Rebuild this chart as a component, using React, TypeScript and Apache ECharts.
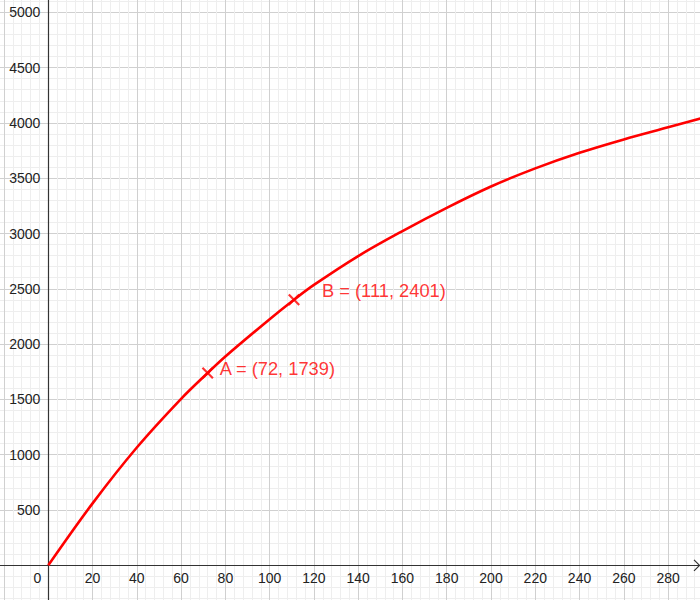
import React, { useEffect, useRef } from "react";
import * as echarts from "echarts";

// Curve readings (x, y)
const curveX = [0, 20, 40, 60, 72, 80, 100, 111, 120, 140, 160, 180, 200, 220, 240, 260, 280, 295];
const curveY = [0, 560, 1065, 1505, 1739, 1888, 2225, 2401, 2535, 2796, 3022, 3232, 3425, 3589, 3730, 3851, 3960, 4042];

// Labelled points
const pointNames = ["A", "B"];
const pointX = [72, 111];
const pointY = [1739, 2401];

// Axis settings
const xMin = -40;
const xMax = 300;
const xStep = 20;
const yMin = -500;
const yMax = 5500;
const yStep = 500;

const FONT = "'Liberation Sans', Arial, sans-serif";
const RED = "#ff0000";

// label offsets (style, not data)
const labelOffsets = [
  [0, -4],
  [16, -9],
];

const CROSS =
  "path://M0,1.3L1.3,0L5,3.7L8.7,0L10,1.3L6.3,5L10,8.7L8.7,10L5,6.3L1.3,10L0,8.7L3.7,5Z";

export default function App() {
  const ref = useRef<HTMLDivElement>(null);
  useEffect(() => {
    if (!ref.current) return;
    const chart = echarts.init(ref.current, null, { renderer: "svg" });

    // pixel layout of the plotting plane
    const x0 = 48.3;
    const sx = 2.2135; // px per x unit
    const y0 = 565.3;
    const sy = 55.3 / 500; // px per y unit
    const gridLeft = x0 + xMin * sx;
    const gridRightPx = x0 + xMax * sx;
    const gridTop = y0 - yMax * sy;
    const gridBottomPx = y0 - yMin * sy;

    const option: any = {
      animation: false,
      backgroundColor: "#ffffff",
      grid: {
        left: gridLeft,
        right: 700 - gridRightPx,
        top: gridTop,
        bottom: 600 - gridBottomPx,
        containLabel: false,
        outerBoundsMode: "none",
      },
      xAxis: {
        type: "value",
        position: "bottom",
        offset: -(gridBottomPx - y0),
        min: xMin,
        max: xMax,
        interval: xStep,
        axisLine: { show: true, onZero: false, lineStyle: { color: "#333333", width: 1.2 } },
        axisTick: { show: false },
        minorTick: { show: false, splitNumber: 5 },
        splitLine: { show: true, lineStyle: { color: "#d0d0d0", width: 1, type: "solid" } },
        minorSplitLine: { show: true, lineStyle: { color: "#eeeeee", width: 1, type: "solid" } },
        axisLabel: {
          show: true,
          margin: 6,
          fontSize: 14,
          fontFamily: FONT,
          color: "#222222",
          hideOverlap: false,
          formatter: (v: number) => {
            if (v === 0) return "{z|0}";
            if (v < 0 || v >= xMax) return "";
            return String(v);
          },
          rich: {
            z: { fontSize: 14, fontFamily: FONT, color: "#222222", padding: [0, 22, 0, 0] },
          },
        },
      },
      yAxis: {
        type: "value",
        position: "left",
        offset: -(x0 - gridLeft),
        min: yMin,
        max: yMax,
        interval: yStep,
        axisLine: { show: true, onZero: false, lineStyle: { color: "#333333", width: 1.2 } },
        axisTick: { show: false },
        minorTick: { show: false, splitNumber: 5 },
        splitLine: { show: true, lineStyle: { color: "#d0d0d0", width: 1, type: "solid" } },
        minorSplitLine: { show: true, lineStyle: { color: "#eeeeee", width: 1, type: "solid" } },
        axisLabel: {
          show: true,
          margin: 8,
          fontSize: 14,
          fontFamily: FONT,
          color: "#222222",
          hideOverlap: false,
          formatter: (v: number) => (v <= 0 || v >= yMax ? "" : String(v)),
        },
      },
      series: [
        {
          type: "line",
          data: curveX.map((x, i) => [x, curveY[i]]),
          smooth: 0.35,
          showSymbol: false,
          symbol: "none",
          lineStyle: { color: RED, width: 2.6 },
          z: 3,
        },
        {
          type: "scatter",
          symbol: CROSS,
          symbolSize: 12,
          itemStyle: { color: RED },
          z: 4,
          data: pointNames.map((n, i) => ({
            name: n,
            value: [pointX[i], pointY[i]],
            label: { offset: labelOffsets[i] },
          })),
          label: {
            show: true,
            position: "right",
            distance: 6,
            fontSize: 18.3,
            fontFamily: FONT,
            color: RED,
            formatter: (p: any) => `${p.name} = (${p.value[0]}, ${p.value[1]})`,
          },
        },
      ],
      graphic: [
        {
          type: "polyline",
          shape: { points: [[694, 559.8], [699.5, 565.3], [694, 570.8]] },
          style: { stroke: "#333333", lineWidth: 1.2, fill: "none" },
          z: 10,
        },
      ],
    };
    chart.setOption(option);
    return () => chart.dispose();
  }, []);

  return (
    <div
      ref={ref}
      style={{ position: "fixed", left: 0, top: 0, width: 700, height: 600, background: "#fff" }}
    />
  );
}
